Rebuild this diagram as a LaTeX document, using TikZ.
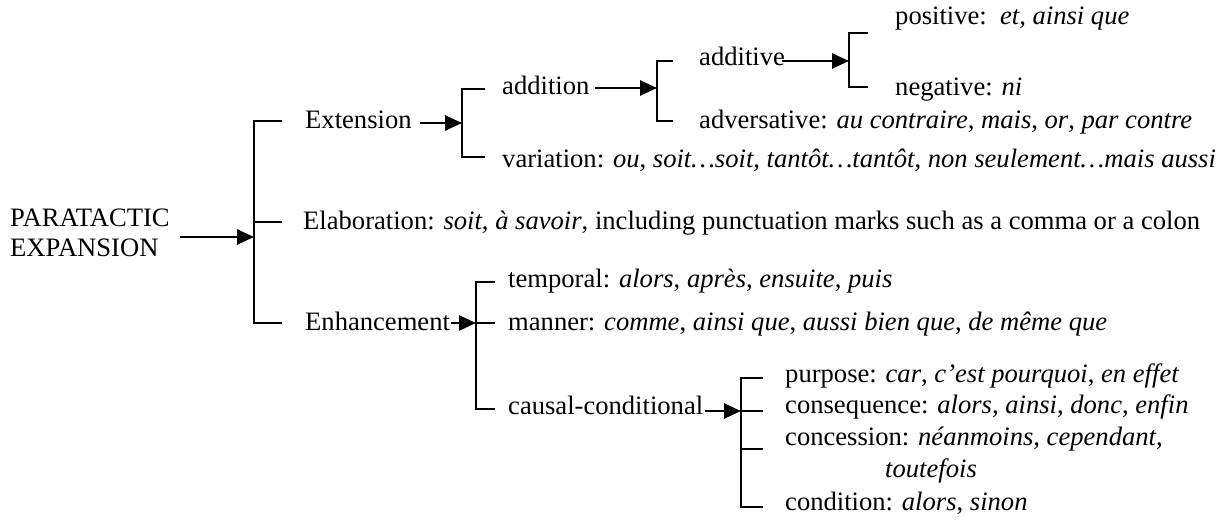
\documentclass[tikz,border=0pt]{standalone}
\usepackage{fontspec}
\setmainfont{Liberation Serif}
\usetikzlibrary{arrows.meta}
\begin{document}
\begin{tikzpicture}[x=1pt,y=-1pt,
  txt/.style={anchor=base west, inner sep=0pt, font=\fontsize{26.6}{30}\selectfont},
  ln/.style={line width=2.6pt, line join=miter},
  arr/.style={line width=2.6pt, -{Triangle[length=17pt,width=15pt]}}]
\useasboundingbox (0,0) rectangle (1217,519);
% texts
\node[txt] (para1) at (10,226) {PARATACTIC};
\node[txt] (para2) at (10,256) {EXPANSION};
\node[txt] (ext) at (305,128) {Extension};
\node[txt] (elab) at (303,229) {Elaboration: \textit{soit}, \textit{à savoir}, including punctuation marks such as a comma or a colon};
\node[txt] (enh) at (305,330) {Enhancement};
\node[txt] (addn) at (502,94) {addition};
\node[txt] (vari) at (502,167) {variation: \textit{ou}, \textit{soit…soit}, \textit{tantôt…tantôt}, \textit{non seulement…mais aussi}};
\node[txt] (addv) at (699,66) {additive};
\node[txt] (adver) at (699,128) {adversative: \textit{au contraire}, \textit{mais}, \textit{or}, \textit{par contre}};
\node[txt] (pos) at (895,25) {positive:\ \ \textit{et}, \textit{ainsi que}};
\node[txt] (neg) at (895,95) {negative: \textit{ni}};
\node[txt] (temp) at (508,287) {temporal: \textit{alors}, \textit{après}, \textit{ensuite}, \textit{puis}};
\node[txt] (mann) at (508,330) {manner: \textit{comme}, \textit{ainsi que}, \textit{aussi bien que}, \textit{de même que}};
\node[txt] (caus) at (508,414) {causal-conditional};
\node[txt] (purp) at (785,382) {purpose: \textit{car}, \textit{c’est pourquoi}, \textit{en effet}};
\node[txt] (cons) at (785,413) {consequence: \textit{alors}, \textit{ainsi}, \textit{donc}, \textit{enfin}};
\node[txt] (conc) at (785,445) {concession: \textit{néanmoins}, \textit{cependant},};
\node[txt] (conc2) at (885,477) {\textit{toutefois}};
\node[txt] (cond) at (785,510) {condition: \textit{alors}, \textit{sinon}};
% bracket 0 (main)
\coordinate (m0) at (180,237); \coordinate (b0) at (254,237);
\draw[arr] (m0) -- (b0);
\draw[ln] (282,121) -- (254,121) -- (254,323) -- (282,323);
\draw[ln] (254,222) -- (282,222);
% bracket 1 (extension)
\coordinate (e0) at (420,123); \coordinate (e1) at (462,123);
\draw[arr] (e0) -- (e1);
\draw[ln] (485,89) -- (462,89) -- (462,157) -- (485,157);
% bracket 2 (addition)
\coordinate (a0) at (595,88); \coordinate (a1) at (657,88);
\draw[arr] (a0) -- (a1);
\draw[ln] (673,61) -- (657,61) -- (657,121) -- (673,121);
% bracket 3 (additive)
\coordinate (d1) at (849,61);
\draw[arr] ([xshift=-3pt]addv.east |- d1) -- (d1);
\draw[ln] (868,33) -- (849,33) -- (849,87) -- (868,87);
% bracket 4 (enhancement)
\coordinate (h1) at (476,323);
\draw[arr] ([xshift=1pt]enh.east |- h1) -- (h1);
\draw[ln] (495,282) -- (476,282) -- (476,409) -- (495,409);
\draw[ln] (476,323) -- (495,323);
% bracket 5 (causal)
\coordinate (c1) at (741,411);
\draw[arr] ([xshift=2pt]caus.east |- c1) -- (c1);
\draw[ln] (763,378) -- (741,378) -- (741,507) -- (763,507);
\draw[ln] (741,411) -- (763,411);
\draw[ln] (741,449) -- (763,449);
\end{tikzpicture}
\end{document}
